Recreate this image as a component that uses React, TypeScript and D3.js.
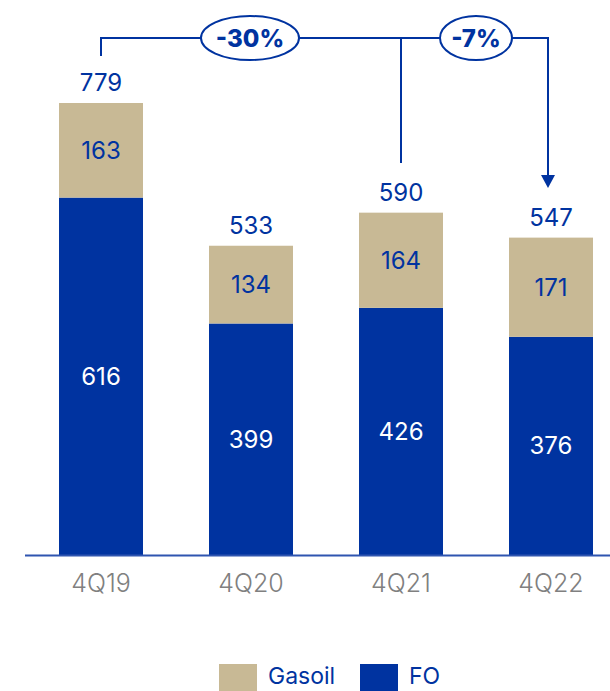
import { useRef, useEffect } from "react";
import * as d3 from "d3";

const quarters = ["4Q19", "4Q20", "4Q21", "4Q22"];
const fo = [616, 399, 426, 376];
const gasoil = [163, 134, 164, 171];
const totals = [779, 533, 590, 547];
const changes = ["-30%", "-7%"];

const BLUE = "#0033a0";
const SAND = "#c8b995";

export default function App() {
  const svgRef = useRef<SVGSVGElement>(null);

  useEffect(() => {
    if (!svgRef.current) return;
    const svg = d3.select(svgRef.current);
    svg.selectAll("*").remove();

    const width = 610;
    const height = 691;
    const baseline = 555;
    const font = "Inter, 'Noto Sans', sans-serif";

    const x = d3.scaleBand().domain(quarters).range([26, 626]).paddingInner(0.44).paddingOuter(0.22);
    const y = d3.scaleLinear().domain([0, 779]).range([baseline, 103]);

    const g = svg.attr("width", width).attr("height", height).append("g");

    const stack = quarters.map((q, i) => ({ q, fo: fo[i], gasoil: gasoil[i], total: totals[i] }));

    // FO segments
    g.selectAll(".fo")
      .data(stack)
      .enter()
      .append("rect")
      .attr("x", (d) => x(d.q)!)
      .attr("width", x.bandwidth())
      .attr("y", (d) => y(d.fo))
      .attr("height", (d) => y(0) - y(d.fo))
      .attr("fill", BLUE);

    // Gasoil segments
    g.selectAll(".gas")
      .data(stack)
      .enter()
      .append("rect")
      .attr("x", (d) => x(d.q)!)
      .attr("width", x.bandwidth())
      .attr("y", (d) => y(d.fo + d.gasoil))
      .attr("height", (d) => y(d.fo) - y(d.fo + d.gasoil))
      .attr("fill", SAND);

    const cx = (q: string) => x(q)! + x.bandwidth() / 2;

    // labels
    stack.forEach((d) => {
      g.append("text")
        .attr("x", cx(d.q))
        .attr("y", (y(0) + y(d.fo)) / 2)
        .attr("dy", "0.35em")
        .attr("text-anchor", "middle")
        .attr("fill", "#fff")
        .attr("font-family", font)
        .attr("font-size", 24)
        .text(d.fo);
      g.append("text")
        .attr("x", cx(d.q))
        .attr("y", (y(d.fo) + y(d.fo + d.gasoil)) / 2)
        .attr("dy", "0.35em")
        .attr("text-anchor", "middle")
        .attr("fill", BLUE)
        .attr("font-family", font)
        .attr("font-size", 24)
        .text(d.gasoil);
      g.append("text")
        .attr("x", cx(d.q))
        .attr("y", y(d.total) - 12)
        .attr("text-anchor", "middle")
        .attr("fill", BLUE)
        .attr("font-family", font)
        .attr("font-size", 24)
        .text(d.total);
      g.append("text")
        .attr("x", cx(d.q))
        .attr("y", baseline + 37)
        .attr("text-anchor", "middle")
        .attr("fill", "#808080")
        .attr("font-family", font)
        .attr("font-weight", 300)
        .attr("font-size", 25)
        .text(d.q);
    });

    // axis line
    g.append("line")
      .attr("x1", 25)
      .attr("x2", width)
      .attr("y1", baseline + 0.5)
      .attr("y2", baseline + 0.5)
      .attr("stroke", "#2f55b0")
      .attr("stroke-width", 2);

    // bracket annotation
    const topY = 38;
    const x0 = cx(quarters[0]);
    const x2 = cx(quarters[2]);
    const x3 = cx(quarters[3]) - 3;
    const ann = g.append("g").attr("stroke", BLUE).attr("stroke-width", 2).attr("fill", "none");
    ann.append("path").attr("d", `M${x0},56 V${topY} H${x3} V178`);
    ann.append("path").attr("d", `M${x2},${topY} V163`);
    g.append("path")
      .attr("d", `M${x3 - 7},175 L${x3 + 7},175 L${x3},188 Z`)
      .attr("fill", BLUE);

    const bubbles = [
      { label: changes[0], cx: 250, rx: 49 },
      { label: changes[1], cx: 476, rx: 36 },
    ];
    bubbles.forEach((b) => {
      g.append("ellipse")
        .attr("cx", b.cx)
        .attr("cy", topY)
        .attr("rx", b.rx)
        .attr("ry", 22)
        .attr("fill", "#fff")
        .attr("stroke", BLUE)
        .attr("stroke-width", 2);
      g.append("text")
        .attr("x", b.cx)
        .attr("y", topY)
        .attr("dy", "0.36em")
        .attr("text-anchor", "middle")
        .attr("fill", BLUE)
        .attr("font-family", font)
        .attr("font-weight", 800)
        .attr("font-size", 24)
        .text(b.label);
    });

    // legend
    const legend = [
      { label: "Gasoil", color: SAND, x: 219 },
      { label: "FO", color: BLUE, x: 360 },
    ];
    legend.forEach((l) => {
      g.append("rect").attr("x", l.x).attr("y", 664).attr("width", 38).attr("height", 28).attr("fill", l.color);
      g.append("text")
        .attr("x", l.x + 49)
        .attr("y", 684)
        .attr("fill", BLUE)
        .attr("font-family", font)
        .attr("font-size", 23)
        .text(l.label);
    });
  }, []);

  return (
    <div style={{ position: "absolute", left: 0, top: 0 }}>
      <svg ref={svgRef} style={{ display: "block" }} />
    </div>
  );
}
